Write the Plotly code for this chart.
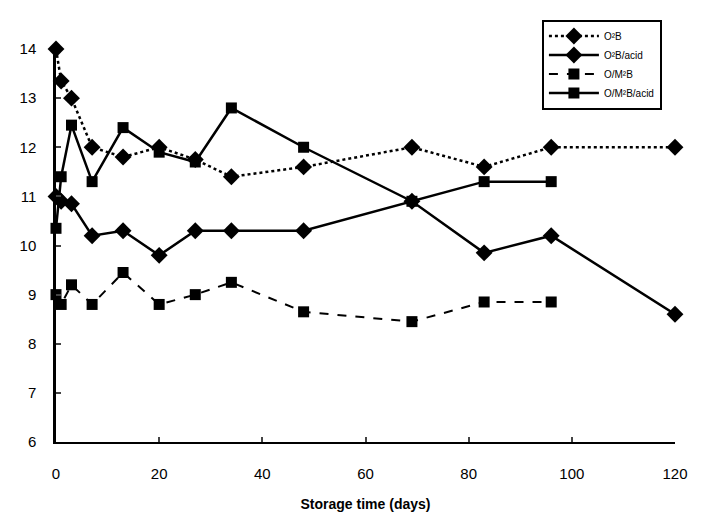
import plotly.graph_objects as go

days_ob = [0, 1, 3, 7, 13, 20, 27, 34, 48, 69, 83, 96, 120]
ob = [14.0, 13.35, 13.0, 12.0, 11.8, 12.0, 11.75, 11.4, 11.6, 12.0, 11.6, 12.0, 12.0]

days_oba = [0, 1, 3, 7, 13, 20, 27, 34, 48, 69, 83, 96, 120]
ob_acid = [11.0, 10.9, 10.85, 10.2, 10.3, 9.8, 10.3, 10.3, 10.3, 10.9, 9.85, 10.2, 8.6]

days_omb = [0, 1, 3, 7, 13, 20, 27, 34, 48, 69, 83, 96]
omb = [9.0, 8.8, 9.2, 8.8, 9.45, 8.8, 9.0, 9.25, 8.65, 8.45, 8.85, 8.85]

days_omba = [0, 1, 3, 7, 13, 20, 27, 34, 48, 69, 83, 96]
omb_acid = [10.35, 11.4, 12.45, 11.3, 12.4, 11.9, 11.7, 12.8, 12.0, 10.9, 11.3, 11.3]

names = ["O²B", "O²B/acid", "O/M²B", "O/M²B/acid"]
y_ticks = [6, 7, 8, 9, 10, 11, 12, 13, 14]
x_ticks = [0, 20, 40, 60, 80, 100, 120]

fig = go.Figure()
fig.add_trace(go.Scatter(x=days_ob, y=ob, name=names[0], mode="lines+markers",
                         line=dict(color="black", width=2.5, dash="dot"),
                         marker=dict(symbol="diamond", size=13, color="black"), cliponaxis=False))
fig.add_trace(go.Scatter(x=days_oba, y=ob_acid, name=names[1], mode="lines+markers",
                         line=dict(color="black", width=2.5),
                         marker=dict(symbol="diamond", size=13, color="black"), cliponaxis=False))
fig.add_trace(go.Scatter(x=days_omb, y=omb, name=names[2], mode="lines+markers",
                         line=dict(color="black", width=2, dash="dash"),
                         marker=dict(symbol="square", size=11, color="black"), cliponaxis=False))
fig.add_trace(go.Scatter(x=days_omba, y=omb_acid, name=names[3], mode="lines+markers",
                         line=dict(color="black", width=2.5),
                         marker=dict(symbol="square", size=11, color="black"), cliponaxis=False))

fig.update_layout(
    width=718, height=525,
    margin=dict(l=40, r=51, t=33, b=91),
    paper_bgcolor="white", plot_bgcolor="white",
    font=dict(family="Liberation Sans, Arial, sans-serif", color="black", size=15),
    showlegend=True,
    legend=dict(x=0.785, y=1.075, xanchor="left", yanchor="top",
                bgcolor="white", bordercolor="black", borderwidth=2,
                font=dict(size=10), itemwidth=50, tracegroupgap=0),
    xaxis=dict(range=[0, 120], tickvals=x_ticks, ticks="inside", ticklen=5,
               tickwidth=2, showline=True, linecolor="black", linewidth=2,
               showgrid=False, zeroline=False, ticklabelstandoff=17,
               title=dict(text="<b>Storage time (days)</b>", font=dict(size=14), standoff=18)),
    yaxis=dict(range=[6, 14], tickvals=y_ticks, ticks="inside", ticklen=5,
               tickwidth=2, showline=True, linecolor="black", linewidth=2.5,
               showgrid=False, zeroline=False, ticklabelstandoff=14),
)

fig.write_html("out.html")
